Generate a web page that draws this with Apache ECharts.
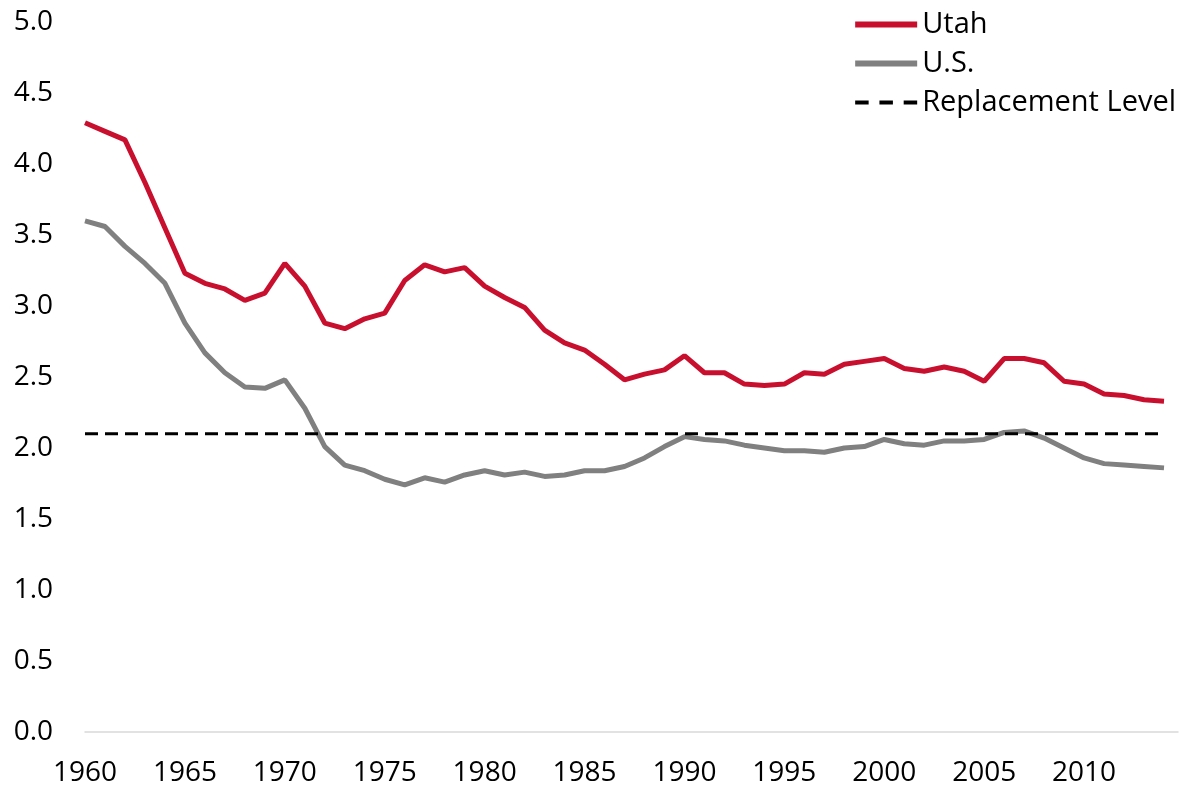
<!DOCTYPE html>
<html>
<head>
<meta charset="utf-8">
<script src="https://cdn.jsdelivr.net/npm/echarts@6/dist/echarts.min.js"></script>
<style>
html, body { margin: 0; padding: 0; background: #fff; }
#chart { width: 1193px; height: 789px; }
</style>
</head>
<body>
<div id="chart"></div>
<script>
// years 1960 - 2014
var years = [];
for (var y = 1960; y <= 2014; y++) years.push(y);

var utah = [4.29, 4.23, 4.17, 3.87, 3.55, 3.23, 3.16, 3.12, 3.04, 3.09,
            3.30, 3.14, 2.88, 2.84, 2.91, 2.95, 3.18, 3.29, 3.24, 3.27,
            3.14, 3.06, 2.99, 2.83, 2.74, 2.69, 2.59, 2.48, 2.52, 2.55,
            2.65, 2.53, 2.53, 2.45, 2.44, 2.45, 2.53, 2.52, 2.59, 2.61,
            2.63, 2.56, 2.54, 2.57, 2.54, 2.47, 2.63, 2.63, 2.60, 2.47,
            2.45, 2.38, 2.37, 2.34, 2.33];

var us = [3.60, 3.56, 3.42, 3.30, 3.16, 2.88, 2.67, 2.53, 2.43, 2.42,
          2.48, 2.28, 2.01, 1.88, 1.84, 1.78, 1.74, 1.79, 1.76, 1.81,
          1.84, 1.81, 1.83, 1.80, 1.81, 1.84, 1.84, 1.87, 1.93, 2.01,
          2.08, 2.06, 2.05, 2.02, 2.00, 1.98, 1.98, 1.97, 2.00, 2.01,
          2.06, 2.03, 2.02, 2.05, 2.05, 2.06, 2.11, 2.12, 2.07, 2.00,
          1.93, 1.89, 1.88, 1.87, 1.86];

var replacementYears = [1960, 2014];
var replacementLevel = [2.1, 2.1];

function pairs(xs, vs) {
    var out = [];
    for (var i = 0; i < xs.length; i++) out.push([xs[i], vs[i]]);
    return out;
}

var font = 'Open Sans';
var red = '#c8102e', gray = '#808080';
var dashIcon = 'path://M0,0h12.5v3.5h-12.5z M22.5,0h12.5v3.5h-12.5z M45,0h12.5v3.5h-12.5z';

var myChart = echarts.init(document.getElementById('chart'));

var option = {
    animation: false,
    grid: { left: 85, right: 15, top: 22, bottom: 57 },
    legend: {
        orient: 'vertical',
        right: 12,
        top: 5,
        itemWidth: 62,
        itemHeight: 6,
        itemGap: 10,
        textStyle: { fontFamily: font, fontSize: 29, color: '#000' },
        data: [
            { name: 'Utah', icon: 'rect' },
            { name: 'U.S.', icon: 'rect' },
            { name: 'Replacement Level', icon: dashIcon }
        ]
    },
    xAxis: {
        type: 'value',
        min: 1960,
        max: 2014.7,
        interval: 5,
        splitLine: { show: false },
        axisTick: { show: false },
        axisLine: { lineStyle: { color: '#d9d9d9', width: 1.5 } },
        axisLabel: {
            margin: 27,
            fontFamily: font, fontSize: 28, color: '#000',
            formatter: function (v) { return v % 5 === 0 ? String(v) : ''; }
        }
    },
    yAxis: {
        type: 'value',
        min: 0,
        max: 5,
        interval: 0.5,
        splitLine: { show: false },
        axisTick: { show: false },
        axisLine: { show: false },
        axisLabel: {
            margin: 32,
            fontFamily: font, fontSize: 28, color: '#000',
            formatter: function (v) { return v.toFixed(1); }
        }
    },
    series: [
        {
            name: 'Utah', type: 'line', symbol: 'none',
            data: pairs(years, utah),
            lineStyle: { color: red, width: 5 },
            itemStyle: { color: red }
        },
        {
            name: 'U.S.', type: 'line', symbol: 'none',
            data: pairs(years, us),
            lineStyle: { color: gray, width: 5 },
            itemStyle: { color: gray }
        },
        {
            name: 'Replacement Level', type: 'line', symbol: 'none',
            data: pairs(replacementYears, replacementLevel),
            lineStyle: { color: '#000', width: 3, type: [13, 7] },
            itemStyle: { color: '#000' }
        }
    ]
};

myChart.setOption(option);
</script>
</body>
</html>
